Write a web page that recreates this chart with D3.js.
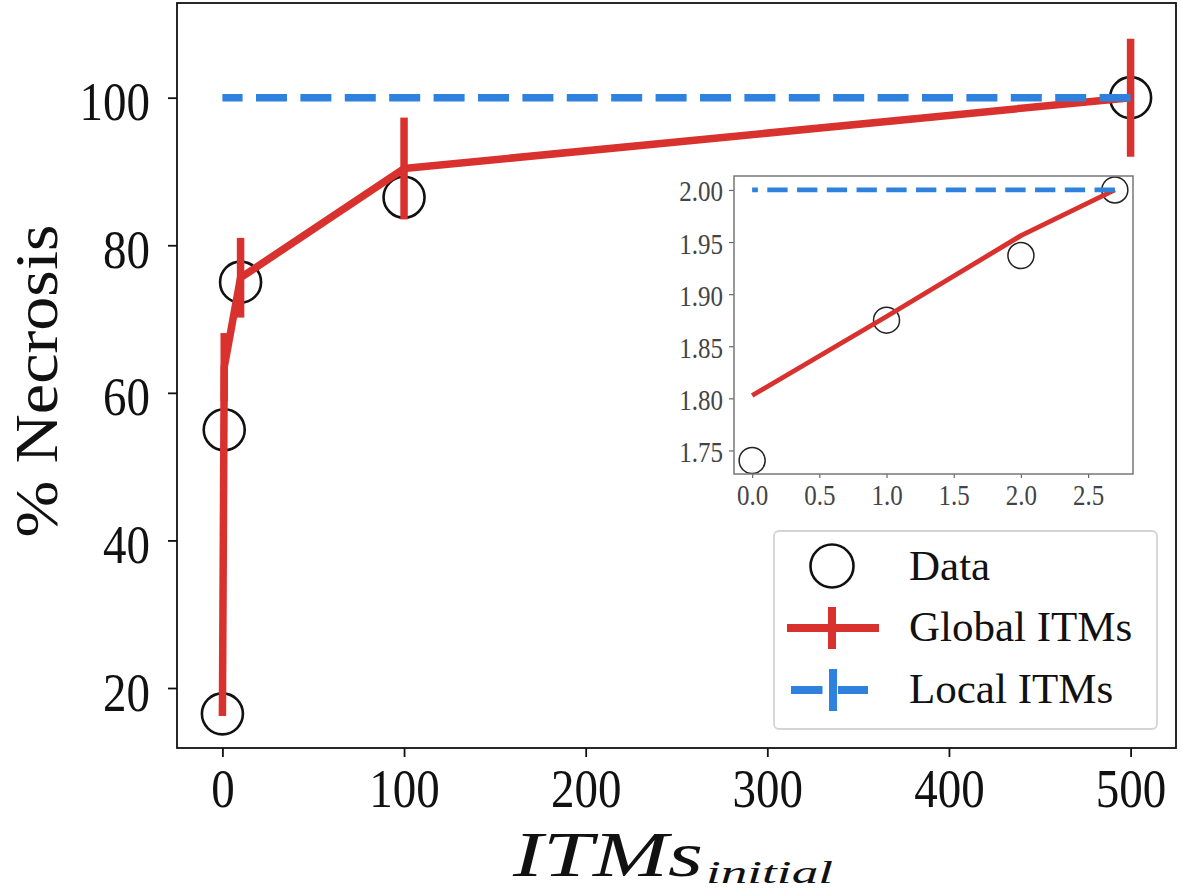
<!DOCTYPE html>
<html>
<head>
<meta charset="utf-8">
<script src="https://cdn.jsdelivr.net/npm/d3@7"></script>
<style>
  html, body { margin: 0; padding: 0; background: #fff; }
  svg { display: block; }
  text { font-family: "Liberation Serif", "DejaVu Serif", serif; }
</style>
</head>
<body>
<script>
// ---- data ----
const itms = [0, 1, 10, 100, 500];
const dataNecrosis = [16.5, 55, 75, 86.5, 100];
const globalMean = [16.2, 63.5, 75.6, 90.4, 100];
const globalErr = [0, 4.6, 5.4, 6.9, 8];
const localMean = [100, 100, 100, 100, 100];
const localErr = [0, 0, 0, 0, 0];
const xTicks = [0, 100, 200, 300, 400, 500];
const yTicks = [20, 40, 60, 80, 100];
const insetXTicks = [0, 0.5, 1.0, 1.5, 2.0, 2.5];
const insetYTicks = [1.75, 1.80, 1.85, 1.90, 1.95, 2.00];
const legendLabels = ["Data", "Global ITMs", "Local ITMs"];

const RED = "#d8312e", BLUE = "#2e82dd";
const W = 1181, H = 891;

const svg = d3.select("body").append("svg").attr("width", W).attr("height", H);

// ---- main axes ----
const x = d3.scaleLinear().domain([-25, 525]).range([177, 1176]);
const y = d3.scaleLinear().domain([11.87, 112.83]).range([748, 3]);

const gx = svg.append("g").attr("transform", "translate(0,748)")
  .call(d3.axisBottom(x).tickValues(xTicks).tickSize(9).tickFormat(d3.format("d")));
gx.select(".domain").remove();
gx.selectAll("line").attr("stroke", "#111").attr("stroke-width", 1.8);
gx.selectAll("text").attr("y", null).attr("dy", null)
  .attr("transform", "translate(0,59) scale(1,1.18)")
  .attr("font-size", 47).attr("fill", "#111");

const gy = svg.append("g").attr("transform", "translate(177,0)")
  .call(d3.axisLeft(y).tickValues(yTicks).tickSize(9).tickFormat(d3.format("d")));
gy.select(".domain").remove();
gy.selectAll("line").attr("stroke", "#111").attr("stroke-width", 1.8);
gy.selectAll("text").attr("x", null).attr("dy", null)
  .attr("transform", "translate(-27,22) scale(1,1.18)")
  .attr("font-size", 47).attr("fill", "#111").attr("text-anchor", "end");

// data circles
const pts = itms.map((d, i) => ({ x: d, y: dataNecrosis[i] }));
svg.append("g").selectAll("circle").data(pts).join("circle")
  .attr("cx", d => x(d.x)).attr("cy", d => y(d.y)).attr("r", 20.5)
  .attr("fill", "none").attr("stroke", "#111").attr("stroke-width", 2.6);

// global ITMs
const gpts = itms.map((d, i) => ({ x: d, y: globalMean[i], e: globalErr[i] }));
const line = d3.line().x(d => x(d.x)).y(d => y(d.y));
svg.append("path").datum(gpts).attr("d", line)
  .attr("fill", "none").attr("stroke", RED).attr("stroke-width", 7.5)
  .attr("stroke-linejoin", "round");
svg.append("g").selectAll("line").data(gpts.filter(d => d.e > 0)).join("line")
  .attr("x1", d => x(d.x)).attr("x2", d => x(d.x))
  .attr("y1", d => y(d.y - d.e)).attr("y2", d => y(d.y + d.e))
  .attr("stroke", RED).attr("stroke-width", 7.5);

// local ITMs (dashed) - drawn from right to left
const lpts = itms.map((d, i) => ({ x: d, y: localMean[i], e: localErr[i] })).reverse();
svg.append("path").datum(lpts).attr("d", line)
  .attr("fill", "none").attr("stroke", BLUE).attr("stroke-width", 7.5)
  .attr("stroke-dasharray", "31,13.4");

// frame
svg.append("rect").attr("x", 177).attr("y", 3).attr("width", 999).attr("height", 745)
  .attr("fill", "none").attr("stroke", "#111").attr("stroke-width", 1.8);

// ---- axis labels ----
svg.append("text").attr("transform", "translate(57,381) rotate(-90)")
  .attr("text-anchor", "middle").attr("font-size", 61).attr("fill", "#111")
  .attr("textLength", 313).attr("lengthAdjust", "spacingAndGlyphs")
  .text("% Necrosis");

svg.append("text").attr("x", 513).attr("y", 876)
  .attr("font-style", "italic").attr("font-size", 63).attr("fill", "#111")
  .attr("textLength", 190).attr("lengthAdjust", "spacingAndGlyphs")
  .text("ITMs");
svg.append("text").attr("x", 706).attr("y", 883)
  .attr("font-style", "italic").attr("font-size", 31).attr("fill", "#111")
  .attr("textLength", 127).attr("lengthAdjust", "spacingAndGlyphs")
  .text("initial");

// ---- inset ----
const ix = d3.scaleLinear().domain([-0.135, 2.834]).range([734, 1133]);
const iy = d3.scaleLinear().domain([1.7274, 2.0134]).range([474, 176]);
const inset = svg.append("g");
inset.append("rect").attr("x", 734).attr("y", 176).attr("width", 399).attr("height", 298)
  .attr("fill", "#fff");

const igx = inset.append("g").attr("transform", "translate(0,474)")
  .call(d3.axisBottom(ix).tickValues(insetXTicks).tickSize(4).tickFormat(d3.format(".1f")));
igx.select(".domain").remove();
igx.selectAll("line").attr("stroke", "#666").attr("stroke-width", 1.2);
igx.selectAll("text").attr("y", null).attr("dy", null)
  .attr("transform", "translate(0,31) scale(1,1.15)")
  .attr("font-size", 25).attr("fill", "#444");

const igy = inset.append("g").attr("transform", "translate(734,0)")
  .call(d3.axisLeft(iy).tickValues(insetYTicks).tickSize(5).tickFormat(d3.format(".2f")));
igy.select(".domain").remove();
igy.selectAll("line").attr("stroke", "#666").attr("stroke-width", 1.2);
igy.selectAll("text").attr("x", null).attr("dy", null)
  .attr("transform", "translate(-11,11) scale(1,1.15)")
  .attr("font-size", 25).attr("fill", "#444").attr("text-anchor", "end");

// inset data (log10 of positive values)
const ipts = itms.map((d, i) => ({ d, v: dataNecrosis[i] })).filter(p => p.d > 0)
  .map(p => ({ x: Math.log10(p.d), y: Math.log10(p.v) }));
const igpts = itms.map((d, i) => ({ d, v: globalMean[i] })).filter(p => p.d > 0)
  .map(p => ({ x: Math.log10(p.d), y: Math.log10(p.v) }));
const ilpts = itms.map((d, i) => ({ d, v: localMean[i] })).filter(p => p.d > 0)
  .map(p => ({ x: Math.log10(p.d), y: Math.log10(p.v) })).reverse();
const iline = d3.line().x(d => ix(d.x)).y(d => iy(d.y));

svg.append("clipPath").attr("id", "insetClip")
  .append("rect").attr("x", 734).attr("y", 176).attr("width", 399).attr("height", 298);
const ip = inset.append("g").attr("clip-path", "url(#insetClip)");
ip.selectAll("circle").data(ipts).join("circle")
  .attr("cx", d => ix(d.x)).attr("cy", d => iy(d.y)).attr("r", 13)
  .attr("fill", "none").attr("stroke", "#222").attr("stroke-width", 1.5);
ip.append("path").datum(igpts).attr("d", iline)
  .attr("fill", "none").attr("stroke", RED).attr("stroke-width", 4.8)
  .attr("stroke-linejoin", "round");
ip.append("path").datum(ilpts).attr("d", iline)
  .attr("fill", "none").attr("stroke", BLUE).attr("stroke-width", 4.8)
  .attr("stroke-dasharray", "20.3,9.45");
inset.append("rect").attr("x", 734).attr("y", 176).attr("width", 399).attr("height", 298)
  .attr("fill", "none").attr("stroke", "#777").attr("stroke-width", 1.5);

// ---- legend ----
const lg = svg.append("g");
lg.append("rect").attr("x", 774).attr("y", 531).attr("width", 383).attr("height", 198)
  .attr("rx", 5).attr("fill", "#fff").attr("fill-opacity", 0.85)
  .attr("stroke", "#d4d4d4").attr("stroke-width", 1.8);
const rowY = [566, 628, 690];
const textY = [580, 641, 703];
lg.append("circle").attr("cx", 832).attr("cy", rowY[0]).attr("r", 21.5)
  .attr("fill", "none").attr("stroke", "#111").attr("stroke-width", 2.6);
lg.append("line").attr("x1", 787).attr("x2", 879).attr("y1", rowY[1]).attr("y2", rowY[1])
  .attr("stroke", RED).attr("stroke-width", 8);
lg.append("line").attr("x1", 832).attr("x2", 832).attr("y1", rowY[1] - 21).attr("y2", rowY[1] + 21)
  .attr("stroke", RED).attr("stroke-width", 8);
lg.append("line").attr("x1", 791).attr("x2", 868).attr("y1", rowY[2]).attr("y2", rowY[2])
  .attr("stroke", BLUE).attr("stroke-width", 8).attr("stroke-dasharray", "31.5,15.5");
lg.append("line").attr("x1", 833).attr("x2", 833).attr("y1", rowY[2] - 21).attr("y2", rowY[2] + 21)
  .attr("stroke", BLUE).attr("stroke-width", 8);
lg.selectAll("text.lab").data(legendLabels).join("text").attr("class", "lab")
  .attr("x", 909).attr("y", (d, i) => textY[i])
  .attr("font-size", 43).attr("fill", "#111").text(d => d);
</script>
</body>
</html>
